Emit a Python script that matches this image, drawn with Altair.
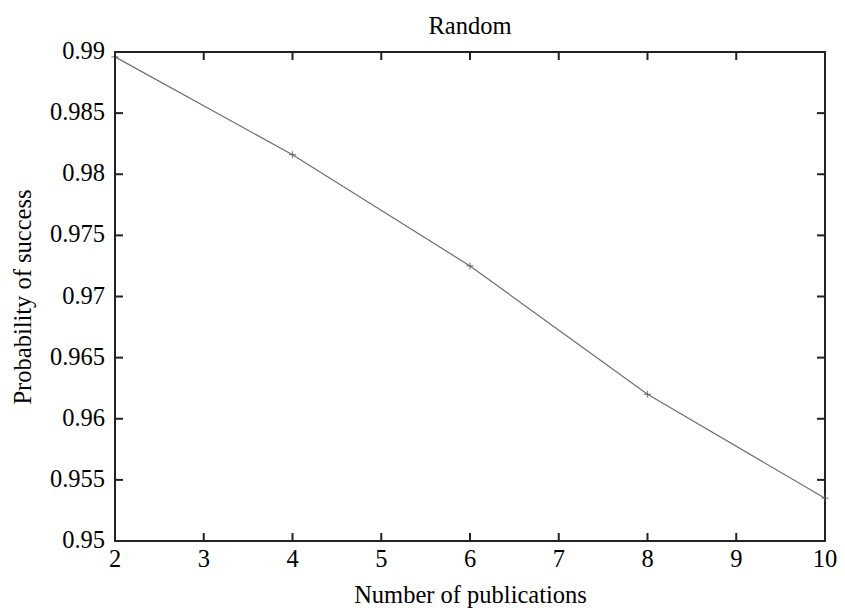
import altair as alt
import pandas as pd

pubs = [2, 4, 6, 8, 10]
prob = [0.9896, 0.9816, 0.9725, 0.9620, 0.9535]
x_ticks = [2, 3, 4, 5, 6, 7, 8, 9, 10]
x_labels = ["2", "3", "4", "5", "6", "7", "8", "9", "10"]
y_ticks = [0.95, 0.955, 0.96, 0.965, 0.97, 0.975, 0.98, 0.985, 0.99]
y_labels = ["0.95", "0.955", "0.96", "0.965", "0.97", "0.975", "0.98", "0.985", "0.99"]

W, H = 710, 489
FONT = "Liberation Serif"
FS = 24.5

df = pd.DataFrame({"pubs": pubs, "prob": prob})
xt = pd.DataFrame({"t": x_ticks, "lab": x_labels})
yt = pd.DataFrame({"t": y_ticks, "lab": y_labels})

xscale = alt.Scale(domain=[2, 10], nice=False, zero=False)
yscale = alt.Scale(domain=[0.95, 0.99], nice=False, zero=False)

xaxis = alt.Axis(values=x_ticks, ticks=False, domain=False, grid=False, labels=False,
                 title="Number of publications", titlePadding=42)
yaxis = alt.Axis(values=y_ticks, ticks=False, domain=False, grid=False, labels=False,
                 title="Probability of success", titlePadding=80)

line = alt.Chart(df).mark_line(color="#6e6e6e", strokeWidth=1.2).encode(
    x=alt.X("pubs:Q", scale=xscale, axis=xaxis),
    y=alt.Y("prob:Q", scale=yscale, axis=yaxis),
)
pts = alt.Chart(df).mark_point(shape="M-1,0L1,0M0,-1L0,1", size=50, color="#555555",
                                strokeWidth=1.2).encode(
    x=alt.X("pubs:Q", scale=xscale),
    y=alt.Y("prob:Q", scale=yscale),
)

TL = 8
tick_color = "#222222"
xb = alt.Chart(xt).mark_rule(color=tick_color, strokeWidth=2).encode(
    x=alt.X("t:Q", scale=xscale), y=alt.value(H), y2=alt.value(H - TL))
xtop = alt.Chart(xt).mark_rule(color=tick_color, strokeWidth=2).encode(
    x=alt.X("t:Q", scale=xscale), y=alt.value(0), y2=alt.value(TL))
yl = alt.Chart(yt).mark_rule(color=tick_color, strokeWidth=2).encode(
    y=alt.Y("t:Q", scale=yscale), x=alt.value(0), x2=alt.value(TL))
yr = alt.Chart(yt).mark_rule(color=tick_color, strokeWidth=2).encode(
    y=alt.Y("t:Q", scale=yscale), x=alt.value(W), x2=alt.value(W - TL))

xlab = alt.Chart(xt).mark_text(font=FONT, fontSize=FS, color="black", align="center",
                               baseline="alphabetic").encode(
    x=alt.X("t:Q", scale=xscale), y=alt.value(H + 26), text="lab:N")
ylab = alt.Chart(yt).mark_text(font=FONT, fontSize=FS, color="black", align="right",
                               baseline="middle").encode(
    y=alt.Y("t:Q", scale=yscale), x=alt.value(-10), text="lab:N")

chart = alt.layer(line, pts, xb, xtop, yl, yr, xlab, ylab).properties(
    width=W, height=H,
    title=alt.TitleParams("Random", font=FONT, fontSize=FS, fontWeight="normal",
                          color="black", offset=0),
    autosize=alt.AutoSizeParams(type="none"),
    padding={"left": 107, "top": 44, "right": 12, "bottom": 80},
).configure(background="white", font=FONT
).configure_view(stroke="#222222", strokeWidth=2
).configure_axis(titleFont=FONT, titleFontSize=FS, titleFontWeight="normal",
                 titleColor="black")

chart.save("out.html", embed_options={"renderer": "svg", "actions": False})
